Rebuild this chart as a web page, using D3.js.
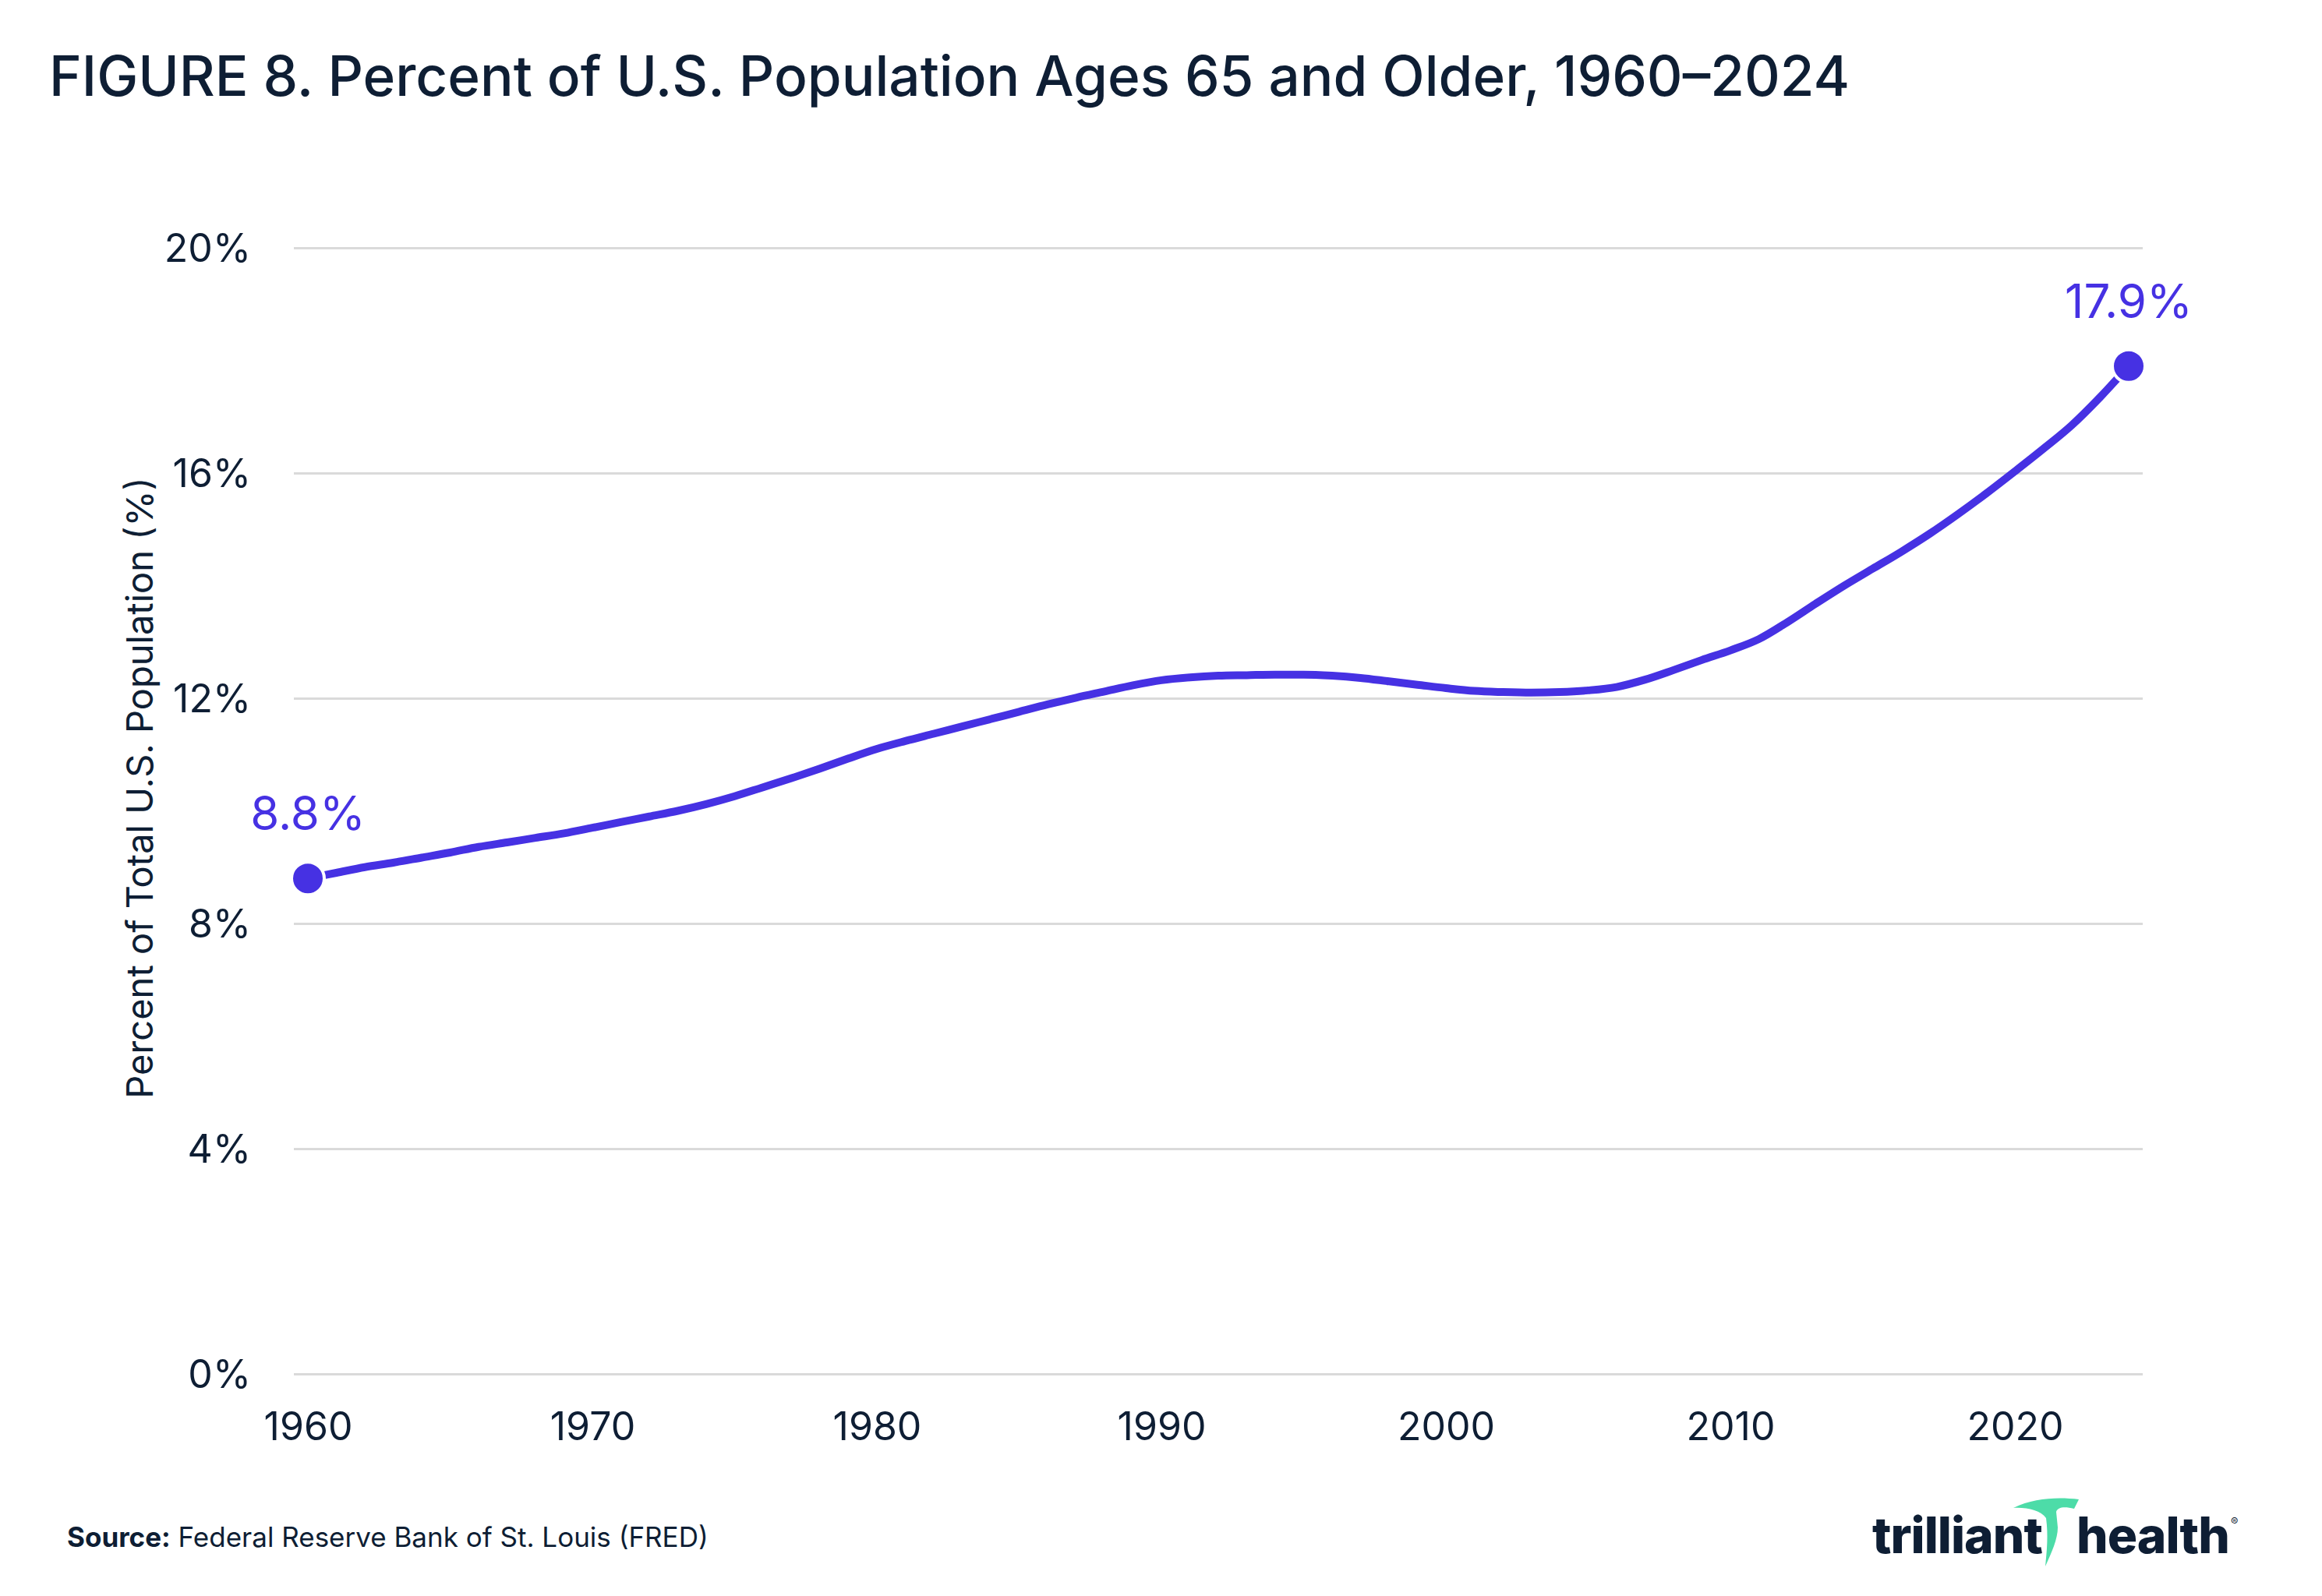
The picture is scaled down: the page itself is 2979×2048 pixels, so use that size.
<!DOCTYPE html>
<html>
<head>
<meta charset="utf-8">
<script src="https://cdn.jsdelivr.net/npm/d3@7"></script>
<style>
  body { margin: 0; background: #fff; }
  text { font-family: Inter, "Noto Sans", sans-serif; }
</style>
</head>
<body>
<svg id="chart" width="2979" height="2048"></svg>
<script>
// values
const years = d3.range(1960, 2025);
const share65 = [
  8.8, 8.9, 9.0, 9.08, 9.17, 9.26, 9.36, 9.44, 9.52, 9.6,
  9.7, 9.8, 9.9, 10.0, 10.12, 10.26, 10.42, 10.58, 10.75, 10.93,
  11.1, 11.24, 11.37, 11.5, 11.63, 11.76, 11.89, 12.01, 12.12, 12.23,
  12.32, 12.37, 12.4, 12.41, 12.42, 12.42, 12.4, 12.36, 12.3, 12.24,
  12.18, 12.13, 12.11, 12.1, 12.11, 12.14, 12.2, 12.33, 12.5, 12.68,
  12.85, 13.05, 13.35, 13.68, 14.0, 14.3, 14.6, 14.92, 15.27, 15.64,
  16.03, 16.43, 16.85, 17.35, 17.9
];
const yTicks = [0, 4, 8, 12, 16, 20];
const xTicks = [1960, 1970, 1980, 1990, 2000, 2010, 2020];
const callouts = [
  { year: 1960, value: 8.8, label: "8.8%" },
  { year: 2024, value: 17.9, label: "17.9%" }
];

const ink = "#0e1e34";
const purple = "#4631e3";
const svg = d3.select("#chart");

const x = d3.scaleLinear().domain([1960, 2024]).range([395, 2731]);
const y = d3.scaleLinear().domain([0, 20]).range([1763, 318]);
const gridLeft = 377, gridRight = 2749;

// title
svg.append("text")
  .attr("x", 63).attr("y", 123)
  .attr("font-size", 71).attr("font-weight", 550)
  .attr("fill", ink)
  .text("FIGURE 8. Percent of U.S. Population Ages 65 and Older, 1960\u20132024");

// y axis + gridlines
const yAxis = svg.append("g")
  .attr("transform", `translate(${gridLeft},0)`)
  .call(d3.axisLeft(y).tickValues(yTicks).tickSize(-(gridRight - gridLeft))
    .tickFormat(d => d + "%"));
yAxis.select(".domain").remove();
yAxis.selectAll(".tick line").attr("stroke", "#dadada").attr("stroke-width", 3);
yAxis.selectAll(".tick text")
  .attr("x", -55).attr("dy", null).attr("y", 17)
  .attr("font-size", 50).attr("fill", ink)
  .attr("font-family", "Inter, sans-serif");

// x axis labels
const xAxis = svg.append("g")
  .attr("transform", `translate(0,${y(0)})`)
  .call(d3.axisBottom(x).tickValues(xTicks).tickSize(0).tickFormat(d3.format("d")));
xAxis.select(".domain").remove();
xAxis.selectAll(".tick text")
  .attr("y", 85).attr("dy", null)
  .attr("font-size", 50).attr("fill", ink)
  .attr("font-family", "Inter, sans-serif");

// y axis title
svg.append("text")
  .attr("transform", "translate(196,1011) rotate(-90)")
  .attr("text-anchor", "middle")
  .attr("font-size", 47).attr("fill", ink)
  .text("Percent of Total U.S. Population (%)");

// the line
const line = d3.line()
  .x((d, i) => x(years[i]))
  .y(d => y(d))
  .curve(d3.curveMonotoneX);

svg.append("path")
  .datum(share65)
  .attr("d", line)
  .attr("fill", "none")
  .attr("stroke", purple)
  .attr("stroke-width", 10)
  .attr("stroke-linejoin", "round");

// end points
svg.selectAll("circle.end")
  .data(callouts)
  .enter().append("circle")
  .attr("class", "end")
  .attr("cx", d => x(d.year))
  .attr("cy", d => y(d.value))
  .attr("r", 21)
  .attr("fill", purple)
  .attr("stroke", "#fff")
  .attr("stroke-width", 4);

svg.selectAll("text.callout")
  .data(callouts)
  .enter().append("text")
  .attr("class", "callout")
  .attr("x", d => x(d.year))
  .attr("y", d => y(d.value) - 62)
  .attr("text-anchor", "middle")
  .attr("font-size", 60)
  .attr("fill", purple)
  .text(d => d.label);

// source
const src = svg.append("text")
  .attr("x", 86).attr("y", 1985)
  .attr("font-size", 35).attr("fill", ink);
src.append("tspan").attr("font-weight", 700).text("Source:");
src.append("tspan").text(" Federal Reserve Bank of St. Louis (FRED)");

// logo
const logo = svg.append("g");
logo.append("text")
  .attr("x", 2402).attr("y", 1993)
  .attr("font-size", 64).attr("font-weight", 800)
  .attr("letter-spacing", -1)
  .attr("fill", ink)
  .text("trilliant");
logo.append("path")
  .attr("d", "M2583,1935 C2610,1922 2640,1921 2667,1924 L2661,1936 C2648,1933 2640,1934 2638,1940 L2640,1960 C2640,1975 2632,1992 2624,2010 C2626,1990 2628,1970 2625,1948 C2618,1938 2600,1934 2583,1935 Z")
  .attr("fill", "#4ddca8");
logo.append("text")
  .attr("x", 2664).attr("y", 1993)
  .attr("font-size", 64).attr("font-weight", 800)
  .attr("letter-spacing", -1)
  .attr("fill", ink)
  .text("health");
logo.append("text")
  .attr("x", 2862).attr("y", 1958)
  .attr("font-size", 14).attr("fill", ink)
  .text("\u00ae");
</script>
</body>
</html>
